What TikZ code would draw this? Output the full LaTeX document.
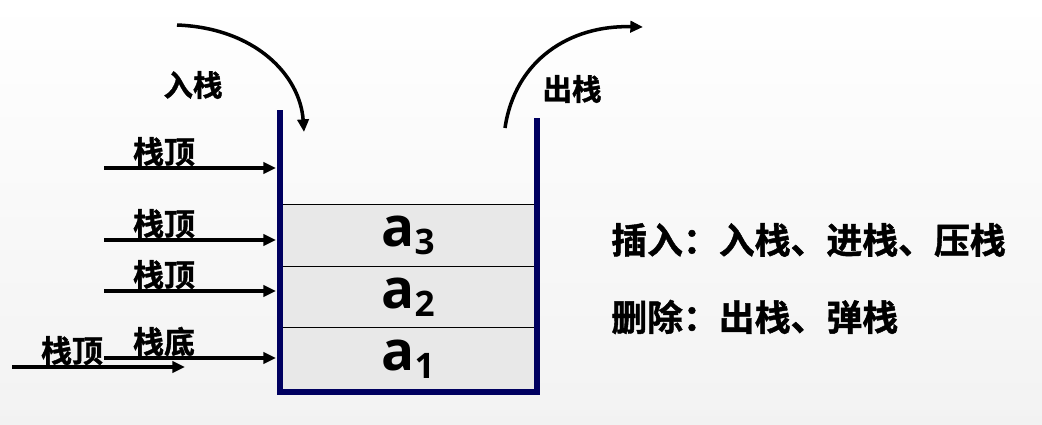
\documentclass[tikz,border=0pt]{standalone}
\usepackage{fontspec}
\setmainfont{Noto Sans CJK SC}[BoldFont={Noto Sans CJK SC Bold}, BoldFeatures={FakeBold=1.2}]
\newfontfamily\latinfont{Open Sans}
\usetikzlibrary{arrows.meta,positioning}

\definecolor{stackblue}{RGB}{0,0,96}
\newcommand{\elem}[1]{a\raisebox{-5.7pt}{\fontsize{25}{25}\selectfont #1}}

\tikzset{
  wall/.style={draw=stackblue, line width=4pt},
  cell/.style={draw=black, fill=gray!18, line width=0.8pt, outer sep=0pt, inner sep=0pt,
    minimum width=6.35cm, minimum height=1.54cm,
    font=\latinfont\bfseries\fontsize{39}{39}\selectfont},
  ptr/.style={line width=2.5pt, -{Triangle[length=9pt,width=8pt]}},
  lbl/.style={font=\bfseries\fontsize{22}{22}\selectfont, inner sep=0pt},
  note/.style={font=\bfseries\fontsize{25.5}{25.5}\selectfont, inner sep=0pt, anchor=west},
}

\begin{document}
\begin{tikzpicture}[x=0.025cm, y=-0.025cm]
    \useasboundingbox (0,0) rectangle (1042,424);
    \shade[top color=white, bottom color=gray!10] (0,0) rectangle (1042,424);

    % stack cells
    \node[cell] (a3) at (408,235.5) {\elem{3}};
    \node[cell, below=0pt of a3] (a2) {\elem{2}};
    \node[cell, below=0pt of a2] (a1) {\elem{1}};

    % stack walls
    \draw[wall] (280,110) -- (280,392) -- (537,392) -- (537,118);

    % pointers on the left
    \foreach \i/\y/\t in {0/168/栈顶, 1/240/栈顶, 2/291/栈顶, 3/358/栈底} {
        \coordinate (s\i) at (104,\y);
        \coordinate (e\i) at (276,\y);
        \draw[ptr] (s\i) -- (e\i);
        \node[lbl, anchor=south] (l\i) at (164,\y-1.5) {\t};
    }
    \coordinate (s4) at (12,367);
    \coordinate (e4) at (185,367);
    \draw[ptr] (s4) -- (e4);
    \node[lbl, anchor=south] (l4) at (72,365.5) {栈顶};

    % push and pop
    \coordinate (inS) at (177,25);
    \coordinate (inE) at (304,132);
    \draw[ptr] (inS) .. controls (255,28) and (300,75) .. (inE);
    \node[lbl, font=\bfseries\fontsize{21}{21}\selectfont] (push) at (193,85) {入栈};

    \coordinate (outS) at (505,128);
    \coordinate (outE) at (643,27);
    \draw[ptr] (outS) .. controls (515,60) and (570,25) .. (outE);
    \node[lbl, font=\bfseries\fontsize{21}{21}\selectfont] (pop) at (572,89) {出栈};

    % notes
    \node[note] (ins) at (611,240) {插入：入栈、进栈、压栈};
    \node[note] (del) at (611,317) {删除：出栈、弹栈};
\end{tikzpicture}
\end{document}
